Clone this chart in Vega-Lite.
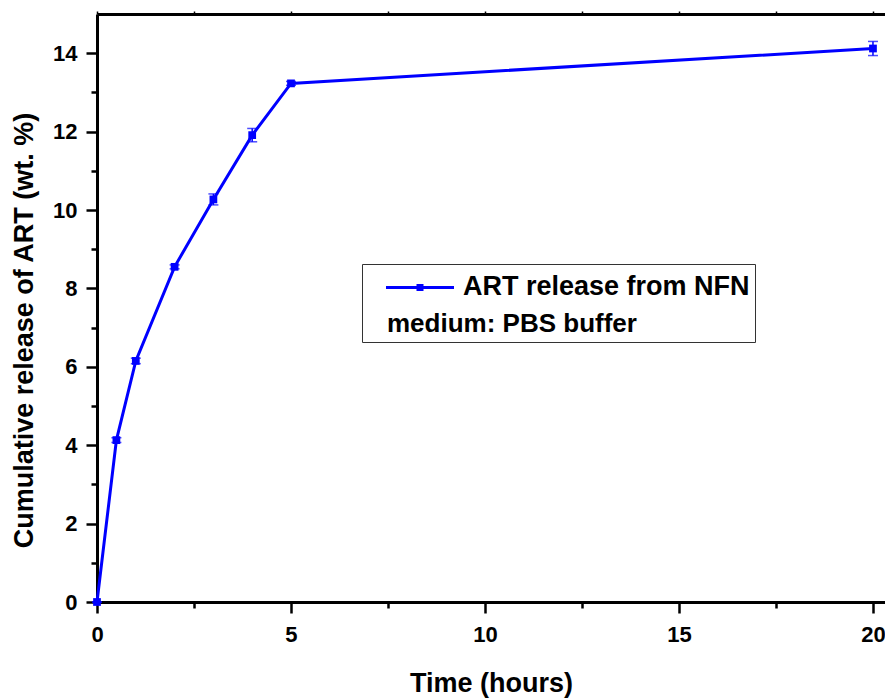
{
  "$schema": "https://vega.github.io/schema/vega-lite/v6.json",
  "autosize": "none",
  "padding": {"left": 97, "top": 14, "right": 0, "bottom": 96},
  "width": 788,
  "height": 588,
  "background": "white",
  "config": {
    "view": {"stroke": null},
    "font": "Liberation Sans",
    "axis": {
      "labelFont": "Liberation Sans",
      "labelFontWeight": "bold",
      "labelFontSize": 22,
      "labelColor": "black",
      "labelFlush": false,
      "titleFont": "Liberation Sans",
      "titleFontWeight": "bold",
      "titleFontSize": 27,
      "titleColor": "black",
      "domainColor": "black",
      "domainWidth": 3,
      "tickColor": "black",
      "tickWidth": 2.5,
      "grid": false
    }
  },
  "data": {
    "values": [
      {"t": 0, "v": 0, "err": 0},
      {"t": 0.5, "v": 4.13, "err": 0.06},
      {"t": 1, "v": 6.15, "err": 0.07},
      {"t": 2, "v": 8.55, "err": 0.05},
      {"t": 3, "v": 10.27, "err": 0.14},
      {"t": 4, "v": 11.91, "err": 0.17},
      {"t": 5, "v": 13.23, "err": 0.05},
      {"t": 20, "v": 14.12, "err": 0.18}
    ]
  },
  "resolve": {"axis": {"x": "independent", "y": "independent"}},
  "layer": [
    {
      "mark": {"type": "point", "opacity": 0},
      "encoding": {
        "x": {"field": "t", "type": "quantitative",
          "axis": {"orient": "top", "values": [0, 2.5, 5, 7.5, 10, 12.5, 15, 17.5, 20], "labels": false, "tickSize": 3, "tickWidth": 1.5, "title": null, "domain": true}},
        "y": {"field": "v", "type": "quantitative",
          "axis": {"orient": "left", "values": [1, 3, 5, 7, 9, 11, 13], "labels": false, "tickSize": 6, "domain": false, "title": null}}
      }
    },
    {
      "mark": {"type": "point", "opacity": 0},
      "encoding": {
        "x": {"field": "t", "type": "quantitative",
          "axis": {"orient": "bottom", "values": [2.5, 7.5, 12.5, 17.5], "labels": false, "tickSize": 6, "domain": false, "title": null}},
        "y": {"field": "v", "type": "quantitative", "axis": null}
      }
    },
    {
      "mark": {"type": "errorbar", "color": "#0000ff", "ticks": {"size": 10, "thickness": 1.5}, "rule": {"strokeWidth": 1.5}},
      "encoding": {
        "x": {"field": "t", "type": "quantitative", "axis": null},
        "y": {"field": "v", "type": "quantitative", "axis": null},
        "yError": {"field": "err"}
      }
    },
    {
      "mark": {"type": "line", "strokeWidth": 3},
      "encoding": {
        "x": {"field": "t", "type": "quantitative",
          "scale": {"domain": [0, 20.31], "nice": false, "zero": false},
          "axis": {"orient": "bottom", "values": [0, 5, 10, 15, 20], "tickSize": 11, "labelPadding": 11, "title": "Time (hours)", "titlePadding": 25, "format": "d"}},
        "y": {"field": "v", "type": "quantitative",
          "scale": {"domain": [0, 15], "nice": false},
          "axis": {"orient": "left", "values": [0, 2, 4, 6, 8, 10, 12, 14], "tickSize": 11, "labelPadding": 9, "title": "Cumulative release of ART (wt. %)", "titlePadding": 14, "titleY": 316, "format": "d"}},
        "color": {
          "datum": "ART release from NFN",
          "type": "nominal",
          "scale": {"range": ["#0000ff"]},
          "legend": {
            "orient": "none",
            "legendX": 265,
            "legendY": 250,
            "title": "medium: PBS buffer",
            "titleOrient": "bottom",
            "titleAnchor": "start",
            "titleFont": "Liberation Sans",
            "titleFontWeight": "bold",
            "titleFontSize": 26,
            "titleColor": "black",
            "titlePadding": 8,
            "titleLimit": 500,
            "labelFont": "Liberation Sans",
            "labelFontWeight": "bold",
            "labelFontSize": 27,
            "labelColor": "black",
            "labelLimit": 500,
            "labelOffset": 29.5,
            "symbolType": "M-6.8,1H6.8M-0.4,0.6H0.4V1.4H-0.4Z",
            "symbolSize": 100,
            "symbolOffset": 39.5,
            "symbolStrokeWidth": 3,
            "symbolStrokeColor": "#0000ff",
            "symbolFillColor": "#0000ff",
            "strokeColor": "#333333",
            "fillColor": "white",
            "padding": 5,
            "encode": {
              "title": {"update": {"dx": {"value": 20}, "dy": {"value": 3}}},
              "labels": {"update": {"dy": {"value": 4}}}
            }
          }
        }
      }
    },
    {
      "mark": {"type": "point", "shape": "square", "filled": true, "size": 60, "color": "#0000ff", "opacity": 1},
      "encoding": {
        "x": {"field": "t", "type": "quantitative", "axis": null},
        "y": {"field": "v", "type": "quantitative", "axis": null}
      }
    }
  ]
}
